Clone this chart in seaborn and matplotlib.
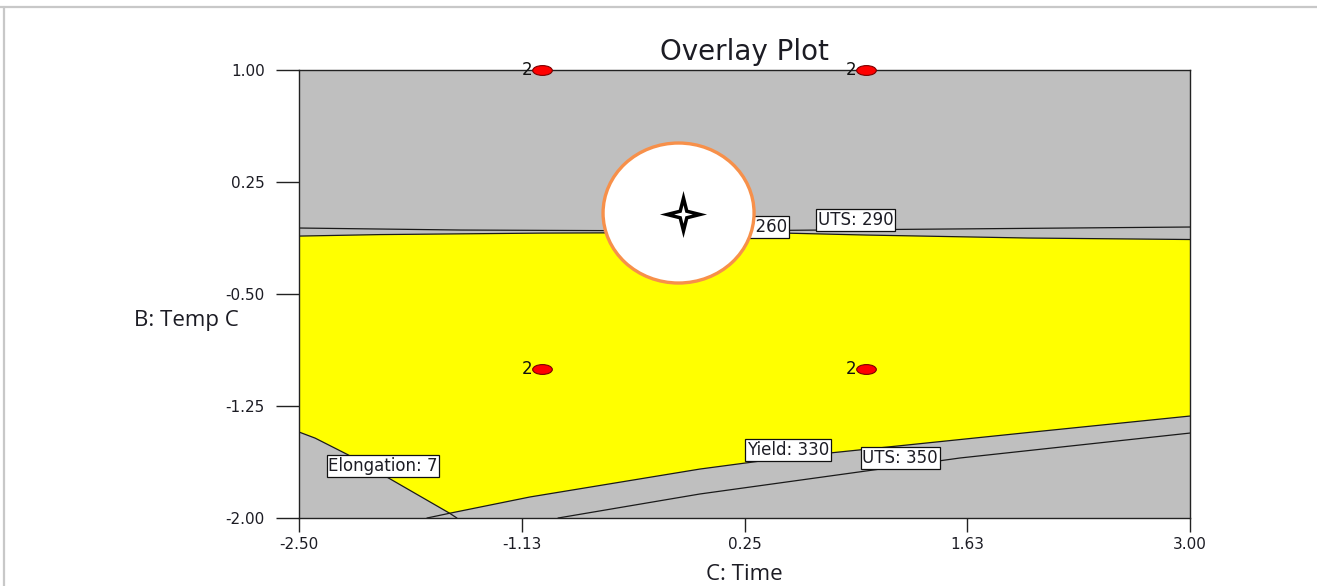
import numpy as np
import pandas as pd
import matplotlib
matplotlib.use("Agg")
import matplotlib.pyplot as plt
from matplotlib.path import Path
from matplotlib.patches import Ellipse
from matplotlib.lines import Line2D
from matplotlib.transforms import Affine2D
import seaborn as sns

# ---- axis setup -------------------------------------------------------------
x_ticks = [-2.5, -1.125, 0.25, 1.625, 3.0]
x_tick_labels = ["-2.50", "-1.13", "0.25", "1.63", "3.00"]
y_ticks = [1.0, 0.25, -0.5, -1.25, -2.0]
y_tick_labels = ["1.00", "0.25", "-0.50", "-1.25", "-2.00"]

# ---- contour lines (C: Time, B: Temp C) -------------------------------------
uts290_x = [-2.5, -1.5, 0.0, 1.5, 3.0]
uts290_y = [-0.058, -0.0715, -0.078, -0.0647, -0.0513]

yield260_x = [-2.5, -2.0, -1.0, 0.0, 0.5, 1.0, 2.0, 3.0]
yield260_y = [-0.112, -0.102, -0.092, -0.088, -0.092, -0.105, -0.125, -0.135]

yield330_x = [-1.71, -1.57, -1.074, -0.025, 0.531, 2.031, 3.0]
yield330_y = [-2.0, -1.968, -1.859, -1.672, -1.592, -1.424, -1.317]

uts350_x = [-0.901, -0.025, 1.58, 3.0]
uts350_y = [-2.0, -1.839, -1.598, -1.431]

elong7_x = [-2.5, -2.4, -2.2, -2.0, -1.57, -1.525]
elong7_y = [-1.424, -1.465, -1.575, -1.699, -1.968, -2.0]

# ---- design points (replicated twice) ---------------------------------------
pt_x = [-1.0, 1.0, -1.0, 1.0]
pt_y = [1.0, 1.0, -1.0, -1.0]
pt_rep = ["2", "2", "2", "2"]

# ---- contour labels ---------------------------------------------------------
lab_text = ["Elongation: 7", "Yield: 330", "UTS: 350", "UTS: 290", "Yield: 260"]
lab_x = [-1.981, 0.519, 1.21, 0.938, 0.512]
lab_y = [-1.652, -1.545, -1.598, -0.0045, -0.051]
lab_ha = ["center", "center", "center", "center", "right"]

sns.set_style("ticks")
plt.rcParams["font.family"] = ["DejaVu Sans"]

GRAY = "#BFBFBF"
YELLOW = "#FFFF00"
TXT = "#1c1c24"

fig = plt.figure(figsize=(13.17, 5.86), dpi=100)
ax = fig.add_axes([0.2270, 0.1160, 0.6766, 0.7645])
ax.set_xlim(-2.5, 3.0)
ax.set_ylim(-2.0, 1.0)
ax.set_facecolor(GRAY)

# feasible (yellow) region: under Yield 260, above Yield 330 / Elongation 7
j = yield330_x.index(-1.57)
k = elong7_x.index(-1.57)
poly_x = yield260_x + yield330_x[j:][::-1] + elong7_x[:k + 1][::-1]
poly_y = yield260_y + yield330_y[j:][::-1] + elong7_y[:k + 1][::-1]
ax.fill(poly_x, poly_y, color=YELLOW, lw=0, zorder=1)

# contour lines
for cx, cy in [(uts290_x, uts290_y), (yield260_x, yield260_y),
               (yield330_x, yield330_y), (uts350_x, uts350_y),
               (elong7_x, elong7_y)]:
    df = pd.DataFrame({"x": cx, "y": cy})
    sns.lineplot(data=df, x="x", y="y", sort=False, estimator=None,
                 color="#1a1a1a", lw=0.9, ax=ax, zorder=2)

# contour labels
for t, lx, ly, ha in zip(lab_text, lab_x, lab_y, lab_ha):
    ax.text(lx, ly, t, ha=ha, va="center", fontsize=12, color=TXT, zorder=3,
            bbox=dict(boxstyle="square,pad=0.1", fc="white", ec="#111111", lw=0.9))

# design points as red ellipses
ell = Path.unit_circle().transformed(Affine2D().scale(1.0, 0.5))
pts = pd.DataFrame({"x": pt_x, "y": pt_y})
sns.scatterplot(data=pts, x="x", y="y", marker=ell, s=200, color="#FF0000",
                edgecolor="#7a0000", linewidth=0.8, ax=ax, zorder=6, clip_on=False)
for px, py, r in zip(pt_x, pt_y, pt_rep):
    ax.annotate(r, (px, py), xytext=(-7, 0), textcoords="offset points",
                ha="right", va="center", fontsize=12, color="#111111",
                zorder=6, annotation_clip=False)

# crosshair marker inside a round badge
badge_x, badge_y = -0.157, 0.0424
ax.add_patch(Ellipse((badge_x, badge_y), 0.932, 0.9375, fc="white",
                     ec="#F7904A", lw=2.4, zorder=4))
r_in = 0.2
star = Path([(0, 1), (r_in, r_in), (1, 0), (r_in, -r_in), (0, -1),
             (-r_in, -r_in), (-1, 0), (-r_in, r_in), (0, 1)], closed=True)
ax.scatter([-0.130], [0.036], marker=star, s=1150, c="black", lw=0, zorder=5)
ax.scatter([-0.130], [0.036], marker=star, s=180, c="white", lw=0, zorder=5)

# axes styling
ax.set_xticks(x_ticks)
ax.set_xticklabels(x_tick_labels)
ax.set_yticks(y_ticks)
ax.set_yticklabels(y_tick_labels)
ax.tick_params(axis="y", direction="out", length=16.5, width=1.0, pad=8,
               labelsize=11, colors="#222222", labelcolor=TXT)
ax.tick_params(axis="x", direction="out", length=10, width=1.0, pad=4,
               labelsize=11, colors="#222222", labelcolor=TXT)
for sp in ax.spines.values():
    sp.set_visible(True)
    sp.set_color("#222222")
    sp.set_linewidth(1.0)
    sp.set_zorder(5)

ax.set_title("Overlay Plot", fontsize=20, color=TXT, y=1.0223, pad=0)
ax.set_xlabel("C: Time", fontsize=16, family=["Open Sans", "DejaVu Sans"], color=TXT)
ax.xaxis.set_label_coords(0.5, -0.127)
ax.xaxis.label.set_va("center")
ax.set_ylabel("B: Temp C", fontsize=16, family=["Open Sans", "DejaVu Sans"],
              color=TXT, rotation=0, ha="center", va="center")
ax.yaxis.set_label_coords(-0.126, 0.442)

# thin page frame along the top and left edges
fig.add_artist(Line2D([0, 1], [1 - 7 / 586, 1 - 7 / 586], transform=fig.transFigure,
                      color="#C8C8C8", lw=1.6))
fig.add_artist(Line2D([4 / 1317, 4 / 1317], [0, 1 - 7 / 586], transform=fig.transFigure,
                      color="#C8C8C8", lw=1.6))

fig.savefig("out.png", dpi=100)
